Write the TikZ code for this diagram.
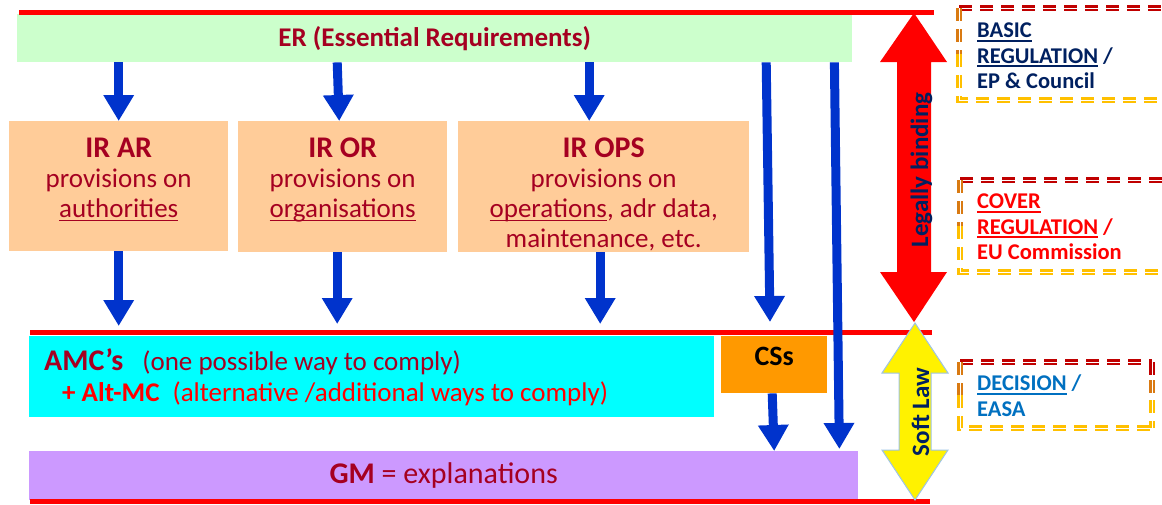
\documentclass[tikz,border=0pt]{standalone}
\usepackage{fontspec}
\setmainfont{Carlito}
\usetikzlibrary{positioning,arrows.meta}

\definecolor{erred}{HTML}{A50021}
\definecolor{navy}{HTML}{002060}
\definecolor{erblue}{HTML}{0033CC}
\definecolor{ergreen}{HTML}{CCFFCC}
\definecolor{peach}{HTML}{FFCC99}
\definecolor{amccyan}{HTML}{00FFFF}
\definecolor{gmlilac}{HTML}{CC99FF}
\definecolor{csorange}{HTML}{FF9900}
\definecolor{decblue}{HTML}{0070C0}
\definecolor{framered}{HTML}{C00000}
\definecolor{frameorange}{HTML}{D97A12}
\definecolor{framegold}{HTML}{FFC000}
\definecolor{softedge}{HTML}{9DC3E6}

\newcommand\titlefont{\fontsize{30}{30}\selectfont\bfseries}
% underline at a fixed depth
\newcommand\uln[1]{\leavevmode\setbox0\hbox{#1}\rlap{\rule[-3.6pt]{\wd0}{1.4pt}}\box0\relax}

\tikzset{
  band/.style={inner sep=0pt, anchor=north west},
  txt/.style={inner sep=0pt, align=center, text=erred, font=\fontsize{27}{30}\selectfont},
  down/.style={draw=erblue, line width=9pt, -{Triangle[width=29pt,length=26pt]}},
  redline/.style={draw=red, line width=5pt},
  frame/.style={line width=2.4pt, double=white, double distance=0.9pt, dash pattern=on 13pt off 8pt},
  side/.style={inner sep=0pt, anchor=north west, align=left, font=\fontsize{22.5}{25.3}\selectfont\bfseries},
  vert/.style={rotate=90, anchor=base, inner sep=0pt, text=navy, font=\fontsize{25}{25}\selectfont\bfseries},
}

% x1 y1 x2 y2, open on the right
\newcommand\regframe[4]{%
  \draw[frame, framered] (#1,#2) -- (#3,#2);
  \draw[frame, frameorange] (#1,#2) -- (#1,{(#2+#4)/2});
  \draw[frame, framegold] (#1,{(#2+#4)/2}) -- (#1,#4) -- (#3,#4);
}

\begin{document}
\begin{tikzpicture}[x=1pt, y=-1pt]
\clip (0,0) rectangle (1162,504);

% boxes
\node[band, fill=ergreen, minimum width=835pt, minimum height=48pt] (er) at (17,14) {};
\node[band, fill=peach, minimum width=219pt, minimum height=130pt] (ar) at (9,121) {};
\node[band, fill=peach, minimum width=209pt, minimum height=131pt] (or) at (238,121) {};
\node[band, fill=peach, minimum width=291pt, minimum height=131pt] (ops) at (458,121) {};
\node[band, fill=amccyan, minimum width=685pt, minimum height=81pt] (amc) at (29,336) {};
\node[band, fill=csorange, minimum width=106pt, minimum height=57pt] (css) at (721,336) {};
\node[band, fill=gmlilac, minimum width=829pt, minimum height=49pt] (gm) at (29,451) {};

% red limits
\draw[redline] (19,12) -- (934,12);
\draw[redline] (30,332) -- (932,332);
\draw[redline] (30,501) -- (930,501);

% legally binding / soft law
\fill[red] (914,13) -- (947,62) -- (931,62) -- (931,272) -- (947,272) -- (914,322)
  -- (880,272) -- (897,272) -- (897,62) -- (880,62) -- cycle;
\filldraw[fill=yellow, draw=softedge, line width=1pt] (915,323) -- (948,373) -- (931,373)
  -- (931,450) -- (948,450) -- (915,500) -- (882,450) -- (899,450) -- (899,373)
  -- (882,373) -- cycle;
\node[vert] (legal) at (928,170) {Legally binding};
\node[vert] (soft) at (929,412) {Soft Law};

% texts
\node[txt, font=\fontsize{27}{30}\selectfont\bfseries, below=12.5pt of er.north] (ertext) {ER (Essential Requirements)};
\node[txt, below=17pt of ar.north] (artext) {{\titlefont IR AR}\\provisions on\\\uln{authorities}};
\node[txt, below=17pt of or.north] (ortext) {{\titlefont IR OR}\\provisions on\\\uln{organisations}};
\node[txt, below=17pt of ops.north] (opstext) {{\titlefont IR OPS}\\provisions on\\\uln{operations}, adr data,\\maintenance, etc.};
\node[inner sep=0pt, anchor=north west, align=left, text=erred, font=\fontsize{27}{31}\selectfont,
  below right=12pt and 15pt of amc.north west] (amctext)
  {{\fontsize{30}{31}\selectfont\bfseries AMC’s}\hspace{19pt}(one possible way to comply)\\
   \hspace*{18pt}{\color{red}\textbf{+ Alt-MC}\hspace{13pt}(alternative /additional ways to comply)}};
\node[txt, text=black, font=\fontsize{28}{28}\selectfont\bfseries, below=11pt of css.north] (csstext) {CSs};
\node[txt, font=\fontsize{30}{30}\selectfont] (gmtext) at (gm.center) {\textbf{GM} = explanations};

% flow
\draw[down] (er.south -| ar.north) -- (ar.north);
\draw[down] ([xshift=-5.5pt]er.south -| or.north) -- ([xshift=-3.5pt]or.north);
\draw[down] ([xshift=-14.5pt]er.south -| ops.north) -- ([xshift=-14.5pt]ops.north);
\draw[down, shorten >=10pt] (ar.south) -- (ar.south |- amc.north);
\draw[down, shorten >=12pt] ([xshift=-5.5pt]or.south) -- ([xshift=-5.5pt]or.south |- amc.north);
\draw[down, shorten >=12pt] ([xshift=-3.5pt]ops.south) -- ([xshift=-3.5pt]ops.south |- amc.north);
\draw[down, shorten >=14pt] ([xshift=-8pt]er.south -| css.north) -- ([xshift=-4pt]css.north);
\draw[down, shorten >=2pt] ([xshift=-24pt]er.south -| gm.north east) -- ([xshift=-19pt]gm.north east);
\draw[down] ([xshift=-2pt]css.south) -- (css.south |- gm.north);

% who issues what
\regframe{959}{8}{1175}{100}
\regframe{960}{180}{1175}{272}
\regframe{960}{362}{1152}{428}
\draw[frame, framered] (1152,362) -- (1152,380);
\draw[frame, frameorange] (1152,380) -- (1152,400);
\draw[frame, framegold] (1152,400) -- (1152,428);
\node[side, text=navy] (basic) at (977,23) {\uln{BASIC}\\\uln{REGULATION} /\\EP \& Council};
\node[side, text=red] (cover) at (977,194) {\uln{COVER}\\\uln{REGULATION} /\\EU Commission};
\node[side, text=decblue] (decision) at (977,375) {\uln{DECISION} /\\EASA};
\end{tikzpicture}
\end{document}
